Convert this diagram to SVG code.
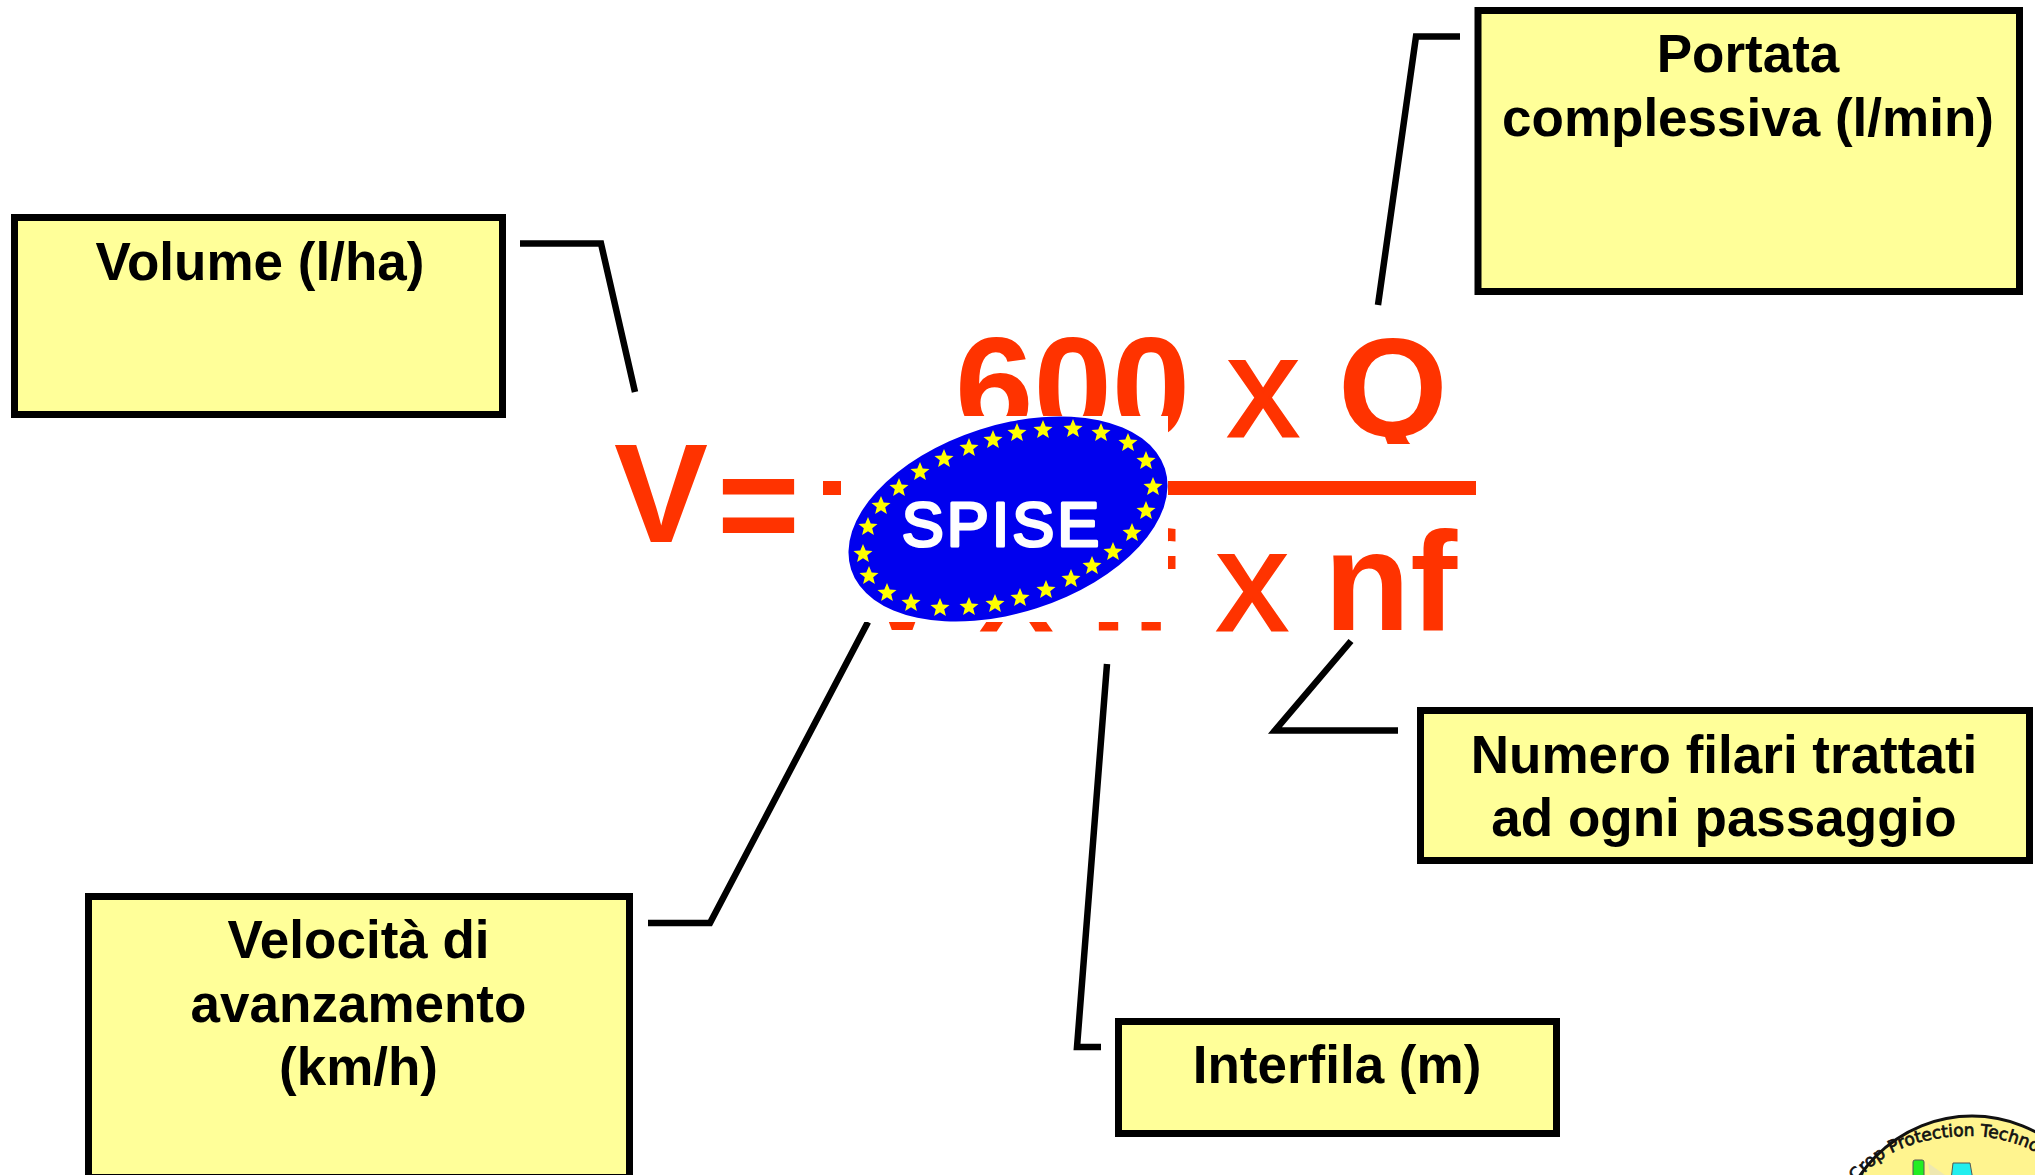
<svg xmlns="http://www.w3.org/2000/svg" width="2035" height="1175" viewBox="0 0 2035 1175">
<style>
.box{fill:#ffff99;stroke:#000;stroke-width:7}
.lbl{font:bold 53px "Liberation Sans",Arial,sans-serif;fill:#000;text-anchor:middle}
.f{font:bold 141px "Liberation Sans",Arial,sans-serif;fill:#ff3300}
.r{font-weight:normal;stroke:#ff3300;stroke-width:3}
.c{fill:none;stroke:#000;stroke-width:6.5}
</style>
<defs><polygon id="s" points="0,-10 2.7,-3.4 9.500,-3.1 4.200,1.300 5.900,8.100 0,4.300 -5.900,8.100 -4.200,1.300 -9.500,-3.1 -2.700,-3.4" fill="#ffff00"/>
<path id="arc" d="M1850,1192 C1875,1150 1925,1135 1975,1136 C2010,1138 2040,1150 2070,1175"/>
<clipPath id="qc"><rect x="1300" y="300" width="200" height="144"/></clipPath></defs>
<rect width="2035" height="1175" fill="#fff"/>
<g id="formula">
<text class="f" x="614" y="542">V</text>
<text class="f" x="717" y="553" style="font-size:142px">=</text>
<text class="f" y="436"><tspan x="955">600</tspan><tspan class="r" x="1228">x</tspan></text>
<text class="f" x="1338" y="436" clip-path="url(#qc)">Q</text>
<rect x="823" y="481" width="653" height="14" fill="#ff3300"/>
<text class="f" y="630"><tspan x="855">V</tspan><tspan class="r" x="981">x</tspan><tspan x="1089">if</tspan><tspan class="r" x="1217">x</tspan><tspan x="1324">nf</tspan></text>
</g>
<g id="connectors">
<path class="c" d="M520,243.500H601L635,392"/>
<path class="c" d="M1460,36.500H1416L1378,305"/>
<path class="c" d="M1398,730.500H1275L1351,641"/>
<path class="c" d="M1101,1047H1077L1107,664"/>
<path class="c" d="M648,923H710L868,622"/>
</g>
<g id="spise">
<rect x="841" y="416" width="327" height="206" fill="#fff"/>
<ellipse cx="1008" cy="519" rx="164.8" ry="93.800" transform="rotate(-17.8 1008 519)" fill="#0000ee"/>
<text x="1002" y="546" font-family="'Liberation Sans',Arial,sans-serif" font-size="63" letter-spacing="3" fill="#fff" stroke="#fff" stroke-width="3" stroke-linejoin="round" text-anchor="middle">SPISE</text>
<g transform="translate(830 400)">
<use href="#s" x="213" y="30"/><use href="#s" x="243" y="29"/><use href="#s" x="271" y="33"/><use href="#s" x="298" y="43"/><use href="#s" x="316" y="61"/><use href="#s" x="323" y="87"/><use href="#s" x="316" y="111"/><use href="#s" x="302" y="133"/><use href="#s" x="283" y="152"/><use href="#s" x="262" y="166"/><use href="#s" x="241" y="179"/><use href="#s" x="216" y="190"/><use href="#s" x="190" y="198"/><use href="#s" x="165" y="204"/><use href="#s" x="139" y="207"/><use href="#s" x="110" y="208"/><use href="#s" x="81" y="203"/><use href="#s" x="57" y="193"/><use href="#s" x="39" y="176"/><use href="#s" x="33" y="154"/><use href="#s" x="38" y="127"/><use href="#s" x="51" y="106"/><use href="#s" x="69" y="88"/><use href="#s" x="90" y="72"/><use href="#s" x="114" y="59"/><use href="#s" x="139" y="48"/><use href="#s" x="163" y="40"/><use href="#s" x="187" y="33"/>
</g>
</g>
<g id="portata"><rect class="box" x="1478" y="10.500" width="541.500" height="281"/><text class="lbl" x="1748" y="72">Portata</text><text class="lbl" x="1748" y="136">complessiva (l/min)</text></g>
<g id="volume"><rect class="box" x="14.500" y="217.500" width="488" height="197"/><text class="lbl" x="260" y="280">Volume (l/ha)</text></g>
<g id="velocita"><rect class="box" x="88.500" y="896.500" width="541" height="281"/><text class="lbl" x="358.500" y="958">Velocità di</text><text class="lbl" x="358.500" y="1022">avanzamento</text><text class="lbl" x="358.500" y="1085">(km/h)</text></g>
<g id="interfila"><rect class="box" x="1118.500" y="1021.500" width="438" height="112"/><text class="lbl" x="1337" y="1083">Interfila (m)</text></g>
<g id="numero"><rect class="box" x="1420.500" y="710.500" width="609" height="150"/><text class="lbl" x="1724" y="773">Numero filari trattati</text><text class="lbl" x="1724" y="836">ad ogni passaggio</text></g>
<g id="logo">
<ellipse cx="1972" cy="1256" rx="137" ry="140" fill="#fff48f" stroke="#111" stroke-width="3"/>
<text font-family="'DejaVu Sans',sans-serif" font-size="17" fill="#111" stroke="#111" stroke-width="0.7"><textPath href="#arc" startOffset="12">Crop Protection Technology</textPath></text>
<rect x="1913" y="1160" width="11" height="20" rx="2" fill="#22ee22" stroke="#555"/>
<path d="M1953,1163H1970L1973,1180H1951Z" fill="#22eeee" stroke="#555"/>
<path d="M1928,1163L1945,1175H1930Z" fill="#eee8b0"/>
</g>
</svg>
